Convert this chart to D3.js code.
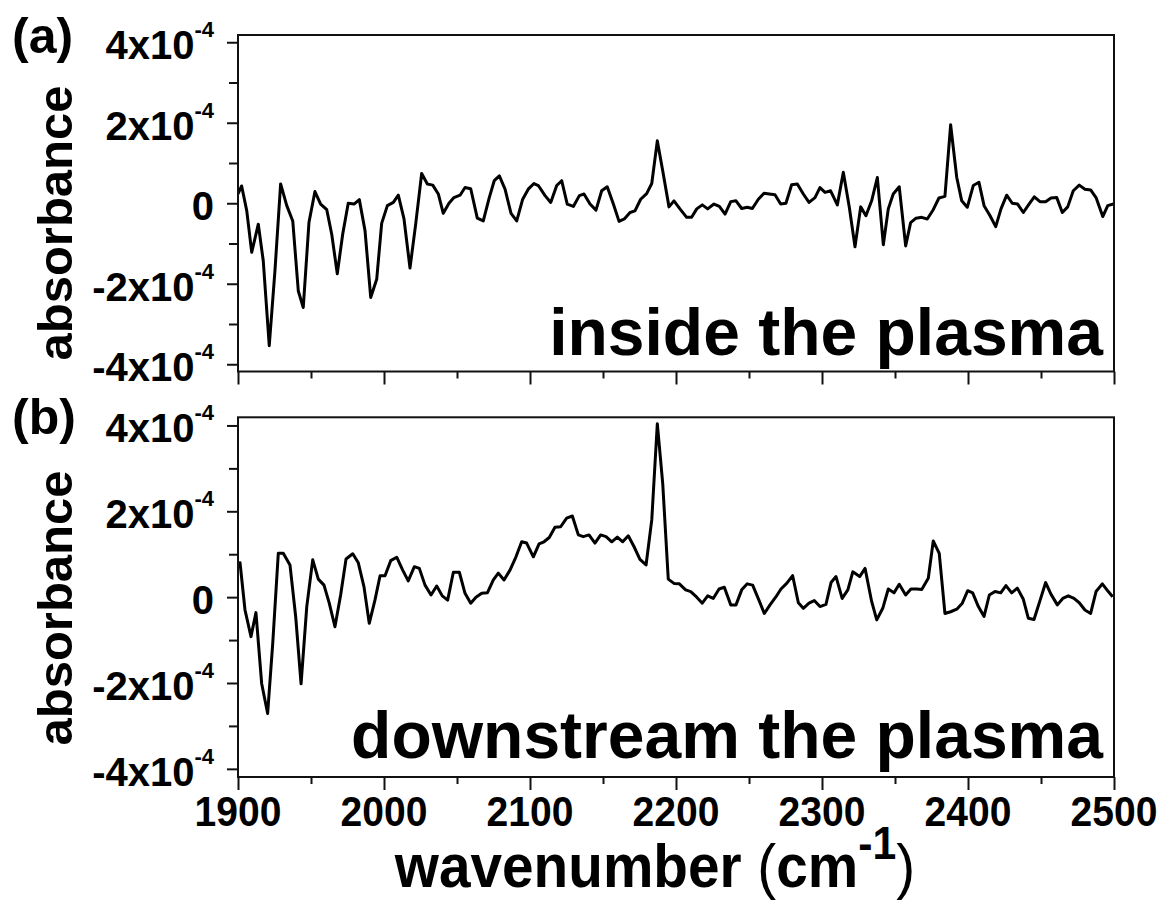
<!DOCTYPE html>
<html><head><meta charset="utf-8">
<script src="https://cdn.jsdelivr.net/npm/d3@7"></script>
<style>
body{margin:0;background:#fff}
svg{display:block}
text{font-family:"Liberation Sans",Arial,Helvetica,sans-serif;font-weight:bold;fill:#000}
</style>
</head><body>
<svg id="c" width="1172" height="907"></svg>
<script>
// ---- data (absorbance in units of 1e-4) ----
const wnA = [1900,1902.5,1906,1909.4,1913.9,1917.3,1921.4,1925.3,1929.2,1933.4,1937.5,1941.3,1944.7,1948.6,1952.7,1956.6,1960.8,1964.2,1968,1971.7,1975.5,1979.5,1983.1,1987,1990.9,1995,1998.4,2002.3,2006.4,2009.8,2013.7,2017.8,2021.7,2025.8,2029.7,2033.4,2037.2,2040.6,2044.5,2047.9,2052.1,2055.5,2059.4,2063.9,2068,2072.1,2075.5,2079,2082.9,2087,2090.9,2095,2098.8,2102.7,2105.7,2110.3,2114.2,2118.3,2121.7,2125.5,2129.7,2133.8,2137,2141.1,2145.2,2149.1,2152.9,2157.1,2161,2164.6,2168.5,2171.9,2175.8,2179.9,2183.4,2187.2,2190.9,2195.2,2198.6,2202.7,2207.3,2210.7,2214.2,2218,2221.7,2226,2229.7,2233.6,2237.5,2241.1,2245,2248.8,2252.3,2256.4,2260.3,2263.9,2267.8,2271.7,2275.3,2279.2,2283.1,2287.2,2291.1,2295.2,2298.6,2302.1,2305.9,2310.5,2314.6,2318.7,2322.6,2326.5,2330.1,2334,2337.9,2342,2345.4,2348.8,2352.9,2357.3,2360.7,2364.4,2368.3,2372.1,2376.2,2380.1,2384.2,2388.1,2392.3,2395.7,2399.5,2403.6,2407.5,2411,2415.1,2419,2422.6,2426.5,2430.3,2434,2437.9,2441.8,2445.4,2449.3,2453.2,2456.8,2460.8,2464.6,2468.3,2472.1,2476.2,2480.1,2484,2487.7,2492.3,2495.7,2499.5];
const absA = [0.23,0.43,-0.19,-1.22,-0.52,-1.43,-3.54,-1.68,0.48,-0.06,-0.44,-2.18,-2.59,-0.48,0.29,-0.02,-0.16,-0.77,-1.75,-0.77,0,-0.02,0.09,-0.68,-2.34,-1.89,-0.5,-0.06,0.02,0.2,-0.39,-1.61,-0.52,0.74,0.48,0.45,0.23,-0.25,0,0.14,0.2,0.39,0.36,-0.37,-0.44,0.14,0.56,0.68,0.35,-0.25,-0.44,0.1,0.35,0.49,0.44,0.19,0.02,0.44,0.56,-0.02,-0.08,0.19,0.23,-0.02,-0.17,0.31,0.41,-0.02,-0.45,-0.39,-0.23,-0.19,0.1,0.24,0.49,1.55,0.81,-0.09,0.06,-0.14,-0.35,-0.35,-0.14,-0.04,-0.14,-0.02,-0.08,-0.27,0.04,0.06,-0.13,-0.1,-0.13,0.1,0.25,0.23,0.21,-0.02,0,0.46,0.48,0.23,0.02,0.14,0.39,0.27,0.31,-0.04,0.77,-0.1,-1.08,-0.09,-0.31,0.06,0.64,-1.03,-0.14,0.23,0.41,-1.06,-0.48,-0.37,-0.35,-0.39,-0.16,0.13,0.17,1.95,0.64,0.06,-0.1,0.44,0.52,-0.06,-0.31,-0.58,-0.14,0.2,0,-0.02,-0.23,-0.02,0.16,0.04,0.04,0.13,0.14,-0.23,-0.09,0.31,0.45,0.35,0.33,0.14,-0.33,-0.06,-0.02];

const wnB = [1900,1901.4,1904.8,1908.9,1912.3,1916.2,1920.3,1923.8,1927.6,1931,1935.6,1939.5,1943.2,1947.1,1951.2,1955,1958.9,1962.5,1966.4,1970.3,1974,1978.6,1982.4,1986.3,1989.9,1993.8,1997.3,2000.7,2004.6,2008.7,2012.8,2016.6,2020.8,2024.2,2028.1,2032.2,2036.1,2039.9,2043.6,2047.5,2051.6,2055.5,2059.4,2063,2066.9,2070.8,2074.9,2078.3,2082.2,2086.3,2090.4,2094.3,2097.7,2102.3,2106.2,2109.6,2113.2,2117.1,2121,2125.1,2129,2133.1,2136.5,2140.4,2144.5,2148.4,2152.1,2156,2159.8,2163.5,2167.3,2171.2,2175.3,2179.5,2183.4,2187.2,2190.9,2194.7,2198.6,2202.3,2206.6,2210.1,2214.2,2218,2221.7,2225.5,2229.5,2233.1,2237.5,2241.1,2245,2248.8,2252.5,2256.8,2260.5,2264.4,2268.5,2271.9,2275.8,2279.9,2283.8,2287.2,2291.1,2294.7,2298.6,2302.7,2306.2,2309.6,2313.8,2317.7,2321.1,2325.8,2329.5,2334,2337.5,2341.6,2345.4,2349.3,2352.9,2357.3,2360.9,2364.9,2368.3,2372.8,2376.2,2380.3,2384.2,2388.1,2392.3,2396.1,2399.8,2403.2,2407.1,2411,2414.6,2418.5,2422.4,2426,2429.9,2433.8,2437.9,2441.3,2445.2,2449.3,2453.2,2456.8,2461.2,2464.9,2468.7,2472.6,2476.2,2480.1,2484,2487.7,2492,2496.1,2499.1];
const absB = [0.79,0.8,-0.3,-0.92,-0.36,-2.01,-2.71,-1.07,1.02,1.02,0.75,-0.45,-2.02,-0.22,0.87,0.42,0.28,-0.14,-0.69,0.05,0.89,1.01,0.8,0.24,-0.61,-0.07,0.5,0.5,0.85,0.93,0.63,0.38,0.71,0.67,0.28,0.05,0.26,0.03,-0.07,0.58,0.58,0.09,-0.14,0,0.09,0.1,0.4,0.56,0.4,0.63,0.94,1.29,1.26,0.94,1.24,1.29,1.39,1.63,1.64,1.84,1.89,1.45,1.41,1.45,1.26,1.45,1.41,1.29,1.4,1.29,1.43,1.18,0.88,0.75,1.8,4.04,2.65,0.42,0.32,0.31,0.17,0.13,0,-0.14,0.03,-0.03,0.19,0.23,-0.18,-0.18,0.17,0.31,0.28,-0.07,-0.38,-0.18,0.01,0.19,0.32,0.5,-0.13,-0.26,-0.14,-0.08,-0.22,-0.17,0.34,0.48,-0.03,0.17,0.59,0.48,0.67,-0.1,-0.53,-0.26,0.19,0.1,0.3,0.05,0.19,0.19,0.18,0.44,1.31,1.02,-0.38,-0.34,-0.28,-0.14,0.15,0.1,-0.22,-0.45,0.05,0.13,0.1,0.27,0.1,0.21,-0.05,-0.49,-0.52,-0.08,0.34,0.07,-0.18,-0.03,0.03,-0.03,-0.13,-0.3,-0.38,0.13,0.31,0.13,0.01];

const xTickValues = [1900,2000,2100,2200,2300,2400,2500];
const xTickLabels = ["1900","2000","2100","2200","2300","2400","2500"];
const xMinorValues = [1950,2050,2150,2250,2350,2450];
const yTickValues = [-4,-2,0,2,4];
const yTickBase = ["-4x10","-2x10","0","2x10","4x10"];
const yTickExp = ["-4","-4","","-4","-4"];
const yMinorValues = [-3,-1,1,3];
const panelLetters = ["(a)","(b)"];
const panelNotes = ["inside the plasma","downstream the plasma"];
const yTitle = "absorbance";

// ---- drawing ----
const svg = d3.select("#c");
const x = d3.scaleLinear().domain([1900,2500]).range([238,1114]);

const panels = [
  {wn: wnA, ab: absA, top: 35, bottom: 371.5, dom: 4.18, letterY: 53, titleC: 223, noteY: 355},
  {wn: wnB, ab: absB, top: 417.3, bottom: 777, dom: 4.19, letterY: 434, titleC: 608, noteY: 758}
];

panels.forEach((p, i) => {
  const y = d3.scaleLinear().domain([-p.dom, p.dom]).range([p.bottom, p.top]);
  const g = svg.append("g");

  const clipId = "clip" + i;
  svg.append("clipPath").attr("id", clipId).append("rect")
    .attr("x", x.range()[0]).attr("y", p.top)
    .attr("width", x.range()[1] - x.range()[0]).attr("height", p.bottom - p.top);

  // line
  g.append("path")
    .datum(d3.zip(p.wn, p.ab))
    .attr("clip-path", "url(#" + clipId + ")")
    .attr("fill", "none")
    .attr("stroke", "#000")
    .attr("stroke-width", 3)
    .attr("stroke-linejoin", "round")
    .attr("d", d3.line().x(d => x(d[0])).y(d => y(d[1])));

  // frame
  g.append("rect")
    .attr("x", x.range()[0]).attr("y", p.top)
    .attr("width", x.range()[1] - x.range()[0]).attr("height", p.bottom - p.top)
    .attr("fill", "none").attr("stroke", "#111").attr("stroke-width", 2);

  // y axis ticks
  const yMaj = g.append("g").attr("transform", `translate(${x.range()[0]},0)`)
    .call(d3.axisLeft(y).tickValues(yTickValues).tickSize(11).tickFormat(""));
  const yMin = g.append("g").attr("transform", `translate(${x.range()[0]},0)`)
    .call(d3.axisLeft(y).tickValues(yMinorValues).tickSize(9).tickFormat(""));
  // x axis ticks
  const xMaj = g.append("g").attr("transform", `translate(0,${p.bottom})`)
    .call(d3.axisBottom(x).tickValues(xTickValues).tickSize(13).tickFormat(""));
  const xMin = g.append("g").attr("transform", `translate(0,${p.bottom})`)
    .call(d3.axisBottom(x).tickValues(xMinorValues).tickSize(7).tickFormat(""));
  [yMaj, yMin, xMaj, xMin].forEach(a => {
    a.select(".domain").remove();
    a.selectAll("line").attr("stroke", "#111").attr("stroke-width", 2);
  });

  // y tick labels
  yTickValues.forEach((v, k) => {
    const t = g.append("text")
      .attr("x", 214).attr("y", y(v) + 17)
      .attr("text-anchor", "end")
      .style("font-size", "40px");
    t.append("tspan").text(yTickBase[k]);
    if (yTickExp[k]) {
      t.append("tspan").attr("dy", -22).style("font-size", "22px").text(yTickExp[k]);
    }
  });

  // y title
  g.append("text")
    .attr("transform", `translate(72,${p.titleC}) rotate(-90)`)
    .attr("text-anchor", "middle")
    .style("font-size", "49px")
    .text(yTitle);

  // panel letter
  g.append("text")
    .attr("x", 12).attr("y", p.letterY)
    .style("font-size", "50px")
    .text(panelLetters[i]);

  // note
  g.append("text")
    .attr("x", 1103).attr("y", p.noteY)
    .attr("text-anchor", "end")
    .style("font-size", "66px")
    .text(panelNotes[i]);

  // x tick labels only on bottom panel
  if (i === 1) {
    xTickValues.forEach((v, k) => {
      g.append("text")
        .attr("transform", `translate(${x(v)},826) scale(0.93,1)`)
        .attr("text-anchor", "middle")
        .style("font-size", "42px")
        .text(xTickLabels[k]);
    });
  }
});

// x title
const xt = svg.append("text")
  .attr("transform", "translate(655,887) scale(0.93,1)")
  .attr("text-anchor", "middle")
  .style("font-size", "61px");
xt.append("tspan").text("wavenumber ");
xt.append("tspan").style("font-weight", "normal").text("(");
xt.append("tspan").text("cm");
xt.append("tspan").attr("dy", -28).style("font-size", "46px").text("-1");
xt.append("tspan").attr("dy", 28).style("font-weight", "normal").text(")");
</script>
</body></html>
